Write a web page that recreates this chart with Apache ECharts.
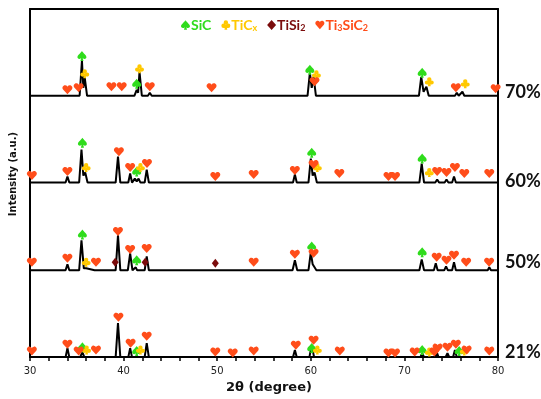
<!DOCTYPE html>
<html><head><meta charset="utf-8">
<script src="https://cdn.jsdelivr.net/npm/echarts@6/dist/echarts.min.js"></script>
<style>html,body{margin:0;padding:0;background:#fff}#c{width:541px;height:399px}</style>
</head><body><div id="c"></div>
<script>
// ---- data: XRD patterns [2theta, intensity above own baseline] ----
const trace70 = [[30,0],
 [35.3,0],[35.55,35],[35.7,8],[35.85,18],[36.1,0],
 [38.5,0],[38.7,2],[38.9,0],[39.6,0],[39.8,2],[40.0,0],
 [41.15,0],[41.4,6],[41.55,3],[41.7,24],[41.95,0],
 [42.6,0],[42.8,3],[43.0,0],[49.2,0],[49.4,2],[49.6,0],
 [59.65,0],[59.9,23],[60.1,8],[60.3,19],[60.55,0],
 [71.55,0],[71.8,19],[72.05,4],[72.35,9],[72.6,0],
 [75.4,0],[75.6,3],[75.8,0],[76.0,0],[76.2,4],[76.4,0],[80,0]];
const trace60 = [[30,0],[33.8,0],[34.0,6],[34.2,0],
 [35.25,0],[35.5,33],[35.7,7],[35.9,10],[36.15,0],
 [36.9,0],[37.05,2],[37.2,0],[39.15,0],[39.4,26],[39.65,0],
 [40.5,0],[40.7,9],[40.9,0],[41.05,0],[41.2,4],[41.4,1],[41.6,4],[41.8,0],
 [42.25,0],[42.47,13],[42.7,0],[49.65,0],[49.8,1],[49.95,0],
 [53.75,0],[53.9,2],[54.05,0],[58.1,0],[58.3,8],[58.5,0],
 [59.75,0],[60.0,24],[60.2,7],[60.4,10],[60.65,0],
 [62.9,0],[63.05,2],[63.2,0],[71.6,0],[71.85,19],[72.1,0],
 [72.55,0],[72.7,2],[72.85,0],[73.3,0],[73.5,3],[73.7,0],
 [74.3,0],[74.5,3],[74.7,0],[75.1,0],[75.3,6],[75.5,0],
 [76.25,0],[76.4,2],[76.55,0],[78.9,0],[79.07,2],[79.25,0],[80,0]];
const trace50 = [[30,0],[33.8,0],[34.0,6],[34.2,0],
 [35.25,0],[35.5,30],[35.75,2],[36.0,2],[36.2,0],
 [36.9,0],[37.05,1],[37.2,0],[39.15,0],[39.4,35],[39.65,0],
 [40.45,0],[40.7,17],[40.95,0],[41.15,0],[41.3,3],[41.45,0],
 [42.25,0],[42.47,14],[42.7,0],[49.65,0],[49.8,1],[49.95,0],
 [53.75,0],[53.9,1],[54.05,0],[58.05,0],[58.3,10],[58.55,0],
 [59.75,0],[60.0,18],[60.2,6],[60.35,8],[60.6,0],
 [62.9,0],[63.05,2],[63.2,0],[71.6,0],[71.85,11],[72.1,0],
 [73.15,0],[73.35,7],[73.55,0],[74.25,0],[74.45,4],[74.65,0],
 [75.1,0],[75.3,8],[75.5,0],[76.45,0],[76.6,1],[76.75,0],
 [78.9,0],[79.07,3],[79.25,0],[80,0]];
const trace21 = [[30,0],[33.8,0],[34.0,9],[34.2,0],
 [35.05,0],[35.2,2],[35.35,0],[35.45,0],[35.6,5],[35.8,0],
 [36.9,0],[37.05,2],[37.2,0],[39.15,0],[39.4,34],[39.65,0],
 [40.5,0],[40.7,9],[40.9,0],[41.25,0],[41.4,1],[41.55,0],
 [42.25,0],[42.47,14],[42.7,0],[49.65,0],[49.8,1],[49.95,0],
 [53.75,0],[53.9,1],[54.05,0],[58.1,0],[58.3,7],[58.5,0],
 [59.85,0],[60.1,12],[60.35,0],[62.95,0],[63.1,1],[63.25,0],
 [70.95,0],[71.1,1],[71.25,0],[71.7,0],[71.9,4],[72.1,0],
 [73.25,0],[73.45,5],[73.65,0],[74.4,0],[74.6,4],[74.8,0],
 [75.2,0],[75.4,7],[75.6,0],[76.45,0],[76.6,2],[76.75,0],
 [78.9,0],[79.07,2],[79.25,0],[80,0]];

// ---- phase markers [2theta, height above baseline] ----
const sic70 = [[35.55,40],[41.4,12],[59.9,26],[71.9,23]];
const tic70 = [[35.85,22],[41.7,27],[60.6,21],[72.66,14],[76.5,12]];
const tisi70 = [];
const ti3_70 = [[34.0,6],[35.2,8],[38.7,9],[39.8,9],[42.8,9],[49.4,8],[60.4,14],[75.5,8],[79.75,7]];
const sic60 = [[35.6,40],[41.4,11],[60.1,30],[71.9,24]];
const tic60 = [[36.0,15],[41.8,15],[60.7,15],[72.66,10]];
const tisi60 = [];
const ti3_60 = [[30.2,7],[34.0,11],[39.5,31],[40.7,15],[42.5,19],[49.8,6],[53.9,8],[58.3,12],[60.3,18],[63.05,9],[68.3,6],[69.0,6],[73.5,11],[74.5,10],[75.4,15],[76.4,9],[79.07,9]];
const sic50 = [[35.6,36],[41.4,10],[60.1,24],[71.9,18]];
const tic50 = [[36.0,8]];
const tisi50 = [[39.1,8],[42.3,8],[49.8,7]];
const ti3_50 = [[30.2,8],[34.0,12],[37.05,8],[39.4,39],[40.7,21],[42.47,22],[53.9,8],[58.3,16],[60.3,17],[73.45,13],[74.5,10],[75.3,15],[76.6,8],[79.05,8]];
const sic21 = [[35.6,10],[41.4,6],[60.1,9],[71.9,7],[75.85,6]];
const tic21 = [[36.05,7],[41.8,7],[60.7,7],[72.66,5],[76.4,6]];
const tisi21 = [];
const ti3_21 = [[30.2,6],[34.0,13],[35.2,6],[37.05,7],[39.45,40],[40.75,14],[42.47,21],[49.8,5],[51.66,4],[53.9,6],[58.4,12],[60.3,17],[63.1,6],[68.3,4],[69.0,4],[71.1,5],[73.2,5],[73.55,9],[74.6,10],[75.5,13],[76.65,7],[79.07,6]];

const sampleLabels = ['70%','60%','50%','21%'];
const xTicks = [30,40,50,60,70,80];

// ---- layout / style ----
const traces = [trace70, trace60, trace50, trace21];
const offsets = [262, 175, 87, 0];
const labelShift = [-4, -1, -8, -5];
const phaseSets = {
  SiC:     [sic70, sic60, sic50, sic21],
  TiCx:    [tic70, tic60, tic50, tic21],
  TiSi2:   [tisi70, tisi60, tisi50, tisi21],
  Ti3SiC2: [ti3_70, ti3_60, ti3_50, ti3_21]
};
const COL = {SiC:'#2fdc1c', TiCx:'#ffc800', TiSi2:'#7b0c0c', Ti3SiC2:'#ff4d1a'};
const SYM = {
  SiC: 'path://M50,0 C62,22 100,42 96,66 C93,82 72,86 58,72 L66,100 L34,100 L42,72 C28,86 7,82 4,66 C0,42 38,22 50,0 Z',
  TiCx: 'path://M50,4 A22,22 0 1 1 49.9,4 Z M27,38 A22,22 0 1 1 26.9,38 Z M73,38 A22,22 0 1 1 72.9,38 Z M44,50 L56,50 L64,100 L36,100 Z',
  TiSi2: 'diamond',
  Ti3SiC2: 'path://M50,95 L8,48 C-6,30 8,4 30,6 C42,7 48,16 50,22 C52,16 58,7 70,6 C92,4 106,30 92,48 Z'
};
const SIZE = {SiC:[9,10], TiCx:[9,9], TiSi2:[7,9], Ti3SiC2:[10,9]};

const series = [];
traces.forEach((t, i) => {
  series.push({
    type:'line', name:'trace'+sampleLabels[i], data: t.map(p => [p[0], p[1] + offsets[i]]),
    showSymbol:false, symbol:'none', silent:true, z:2,
    lineStyle:{color:'#000', width:2},
    endLabel:{show:true, formatter:sampleLabels[i], distance:7, offset:[0,labelShift[i]],
      color:'#111', fontFamily:'Lato', fontWeight:'bold', fontSize:18}
  });
});
Object.keys(phaseSets).forEach(ph => {
  const data = [];
  phaseSets[ph].forEach((arr, i) => arr.forEach(p => data.push([p[0], p[1] + offsets[i]])));
  series.push({type:'scatter', name:ph, data, symbol:SYM[ph], symbolSize:SIZE[ph], z:5,
    itemStyle:{color:COL[ph], opacity:1}});
});

const base = {fontFamily:'Lato', fontWeight:'bold', fontSize:14, lineHeight:16};
const sub = {fontFamily:'Lato', fontWeight:'bold', fontSize:9, lineHeight:9, verticalAlign:'bottom'};
const rich = {};
Object.keys(COL).forEach(k => { rich[k] = Object.assign({color:COL[k]}, base); rich[k+'s'] = Object.assign({color:COL[k]}, sub); });

const chart = echarts.init(document.getElementById('c'), null, {renderer:'canvas'});
chart.setOption({
  animation:false,
  backgroundColor:'#fff',
  grid:{left:30, right:43, top:9, bottom:41},
  legend:{
    left:176, top:13, itemWidth:9, itemHeight:10, itemGap:10, selectedMode:false,
    data:['SiC','TiCx','TiSi2','Ti3SiC2'].map(n => ({name:n, icon:SYM[n], itemStyle:{color:COL[n]}})),
    formatter: n => n==='SiC' ? '{SiC|SiC}' : n==='TiCx' ? '{TiCx|TiC}{TiCxs|x}' : n==='TiSi2' ? '{TiSi2|TiSi}{TiSi2s|2}' : '{Ti3SiC2|Ti}{Ti3SiC2s|3}{Ti3SiC2|SiC}{Ti3SiC2s|2}',
    textStyle:{rich, padding:[0,0,0,-4]}
  },
  xAxis:[{
    type:'value', min:xTicks[0], max:xTicks[xTicks.length-1], interval:10,
    name:'2θ (degree)', nameLocation:'middle', nameGap:22,
    nameTextStyle:{fontFamily:'DejaVu Sans', fontWeight:'bold', fontSize:13, color:'#111', padding:[0,0,0,10]},
    axisLine:{show:true, onZero:false, lineStyle:{color:'#000', width:2}},
    axisTick:{show:true, length:4, lineStyle:{color:'#000', width:1.5}},
    minorTick:{show:true, splitNumber:5, length:4, lineStyle:{color:'#000', width:1.5}},
    axisLabel:{fontFamily:'DejaVu Sans', fontSize:10, color:'#222', margin:9},
    splitLine:{show:false}
  },{
    type:'value', position:'top', min:30, max:80,
    axisLine:{show:true, onZero:false, lineStyle:{color:'#000', width:2}},
    axisTick:{show:false}, axisLabel:{show:false}, splitLine:{show:false}
  }],
  yAxis:[{
    type:'value', min:0, max:349,
    name:'Intensity (a.u.)', nameLocation:'middle', nameGap:12, nameRotate:90,
    nameTextStyle:{fontFamily:'DejaVu Sans', fontWeight:'bold', fontSize:10, color:'#111', padding:[0,0,0,18]},
    axisLine:{show:true, onZero:false, lineStyle:{color:'#000', width:2}},
    axisTick:{show:false}, axisLabel:{show:false}, splitLine:{show:false}
  },{
    type:'value', position:'right', min:0, max:349,
    axisLine:{show:true, onZero:false, lineStyle:{color:'#000', width:2}},
    axisTick:{show:false}, axisLabel:{show:false}, splitLine:{show:false}
  }],
  series
});
</script></body></html>
